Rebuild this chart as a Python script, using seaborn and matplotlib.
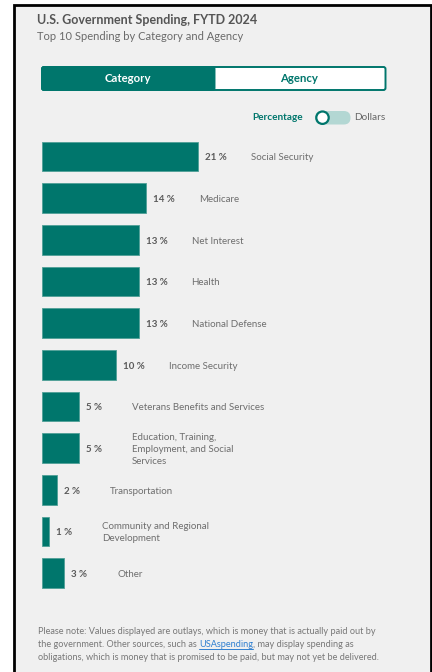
import matplotlib
matplotlib.use("Agg")
import matplotlib.pyplot as plt
import seaborn as sns
import pandas as pd
from matplotlib.patches import Rectangle, FancyBboxPatch, Circle
from matplotlib.lines import Line2D

# -----------------------
# Data
# -----------------------
categories = [
    "Social Security",
    "Medicare",
    "Net Interest",
    "Health",
    "National Defense",
    "Income Security",
    "Veterans Benefits and Services",
    "Education, Training,\nEmployment, and Social\nServices",
    "Transportation",
    "Community and Regional\nDevelopment",
    "Other",
]
percentages = [21, 14, 13, 13, 13, 10, 5, 5, 2, 1, 3]

title = "U.S. Government Spending, FYTD 2024"
subtitle = "Top 10 Spending by Category and Agency"
note_lines = [
    "Please note: Values displayed are outlays, which is money that is actually paid out by",
    "obligations, which is money that is promised to be paid, but may not yet be delivered.",
]

df = pd.DataFrame({"category": categories, "pct": percentages})

# -----------------------
# Style
# -----------------------
sns.set_style("white")
plt.rcParams["font.family"] = ["Lato", "DejaVu Sans"]

TEAL = "#00766c"
BG = "#f0f0f0"
W, H = 432, 672
PX_PER_PCT = 7.43

fig = plt.figure(figsize=(W / 100, H / 100), dpi=100)

# overlay axes in pixel coordinates for the frame / controls
bg = fig.add_axes([0, 0, 1, 1])
bg.set_xlim(0, W)
bg.set_ylim(H, 0)
bg.axis("off")
bg.add_patch(Rectangle((13.5, 4.5), 417, 700, facecolor=BG,
                       edgecolor="black", linewidth=2))

bg.text(37, 20.5, title, fontsize=9.0, fontweight="bold", color="#555555",
        va="center", ha="left")
bg.text(37, 36, subtitle, fontsize=8.0, color="#6a6a6a",
        va="center", ha="left")

# Category / Agency toggle
bg.add_patch(FancyBboxPatch((42, 67), 343.5, 23,
                            boxstyle="round,pad=0,rounding_size=2",
                            facecolor="white", edgecolor=TEAL, linewidth=1.4))
bg.add_patch(FancyBboxPatch((42, 67), 172.5, 23,
                            boxstyle="round,pad=0,rounding_size=2",
                            facecolor=TEAL, edgecolor=TEAL, linewidth=1.4))
bg.text(128, 79, "Category", fontsize=8.2, fontweight="bold", color="white",
        ha="center", va="center")
bg.text(299, 79, "Agency", fontsize=8.2, fontweight="bold", color=TEAL,
        ha="center", va="center")

# Percentage / Dollars switch
bg.text(303, 118, "Percentage", fontsize=7.2, fontweight="bold", color=TEAL,
        ha="right", va="center")
bg.add_patch(FancyBboxPatch((315, 111), 35.5, 13.5,
                            boxstyle="round,pad=0,rounding_size=6.7",
                            facecolor="#b3d7d3", edgecolor="none"))
bg.add_patch(Circle((322.5, 117.7), 6.2, facecolor="white",
                    edgecolor=TEAL, linewidth=1.6))
bg.text(354, 118, "Dollars", fontsize=7.2, color="#666666",
        ha="left", va="center")

# -----------------------
# Bars
# -----------------------
top, bottom = 135.7, 594.0
ax = fig.add_axes([42 / W, 1 - bottom / H, 378 / W, (bottom - top) / H])
ax.patch.set_alpha(0)

sns.barplot(data=df, x="pct", y="category", orient="h", color=TEAL,
            saturation=1, width=0.71, edgecolor="#4f9f97", linewidth=0.6, ax=ax)

ax.set_xlim(0, 378 / PX_PER_PCT)
ax.set_ylim(len(categories) - 0.5, -0.5)
ax.axis("off")

for i, (cat, v) in enumerate(zip(categories, percentages)):
    ax.text(v + 7.0 / PX_PER_PCT, i + 0.03, f"{v} %", fontsize=7.0,
            fontweight="bold", color="#5a5a5a", ha="left", va="center")
    ax.text(v + 53.0 / PX_PER_PCT, i + 0.03, cat, fontsize=7.0,
            color="#6e6e6e", ha="left", va="center", linespacing=1.45)

# -----------------------
# Footnote
# -----------------------
note_kw = dict(fontsize=6.6, color="#777777", ha="left", va="center")
bg.text(38, 631.5, note_lines[0], **note_kw)
t1 = bg.text(38, 644.5, "the government. Other sources, such as ", **note_kw)
link = bg.annotate("USAspending", xy=(1, 0.5), xycoords=t1, fontsize=6.6,
                   color="#2f7fd0", ha="left", va="center")
bg.annotate(", may display spending as", xy=(1, 0.5), xycoords=link,
            **note_kw)
bg.text(38, 657.5, note_lines[1], **note_kw)

fig.canvas.draw()
bb = link.get_window_extent()
inv = bg.transData.inverted()
(x0, y0), (x1, _) = inv.transform([[bb.x0, bb.y0], [bb.x1, bb.y0]])
bg.add_line(Line2D([x0, x1], [y0 - 0.5, y0 - 0.5], color="#2f7fd0",
                   linewidth=0.7))

fig.savefig("out.png", dpi=100)
